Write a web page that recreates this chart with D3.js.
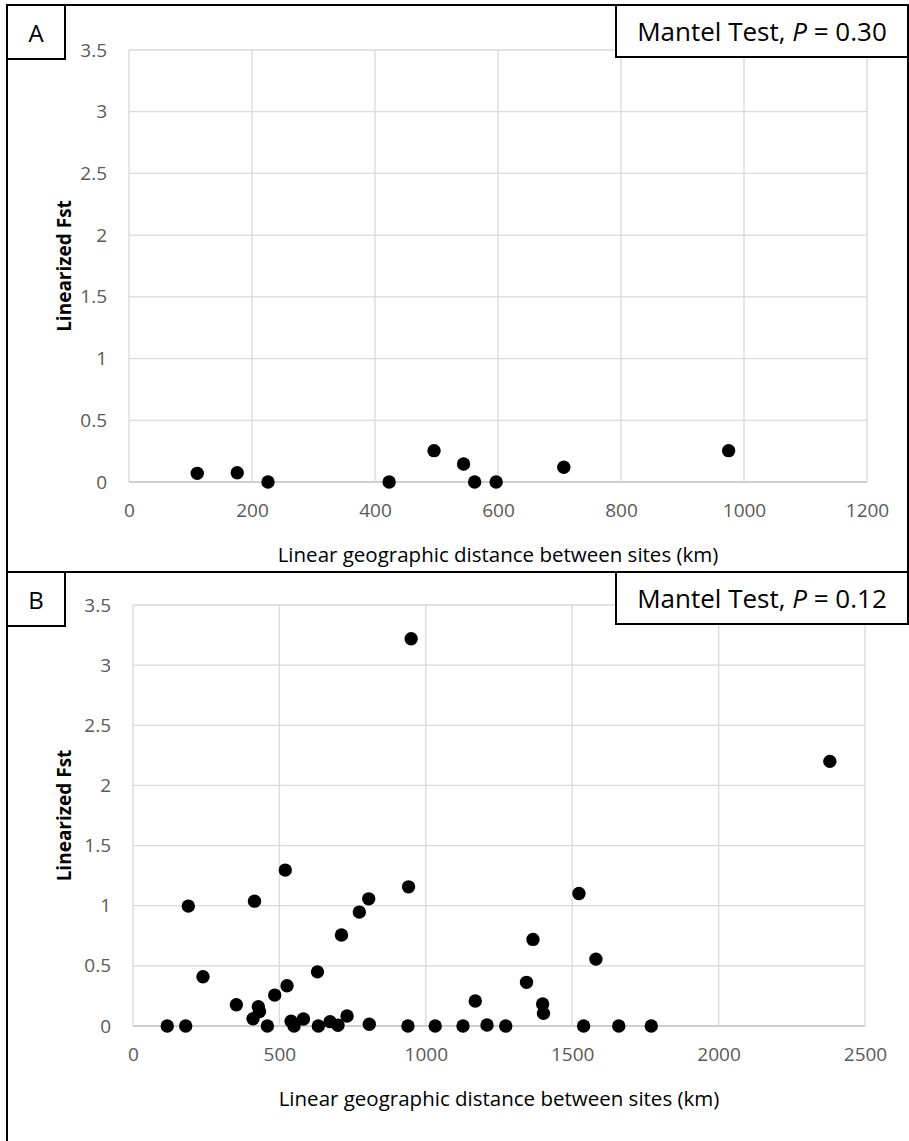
<!DOCTYPE html>
<html>
<head>
<meta charset="utf-8">
<script src="https://cdn.jsdelivr.net/npm/d3@7"></script>
<style>
  body { margin: 0; background: #fff; }
  text { font-family: "Open Sans", "Noto Sans", sans-serif; }
</style>
</head>
<body>
<div id="chart"></div>
<script>
// Panel A data (km, linearized Fst)
var distA = [111, 176, 226, 423, 496, 544, 562, 597, 707, 975];
var fstA = [0.07, 0.075, 0, 0, 0.254, 0.146, 0, 0, 0.119, 0.254];

// Panel B data
var distB = [117, 180, 189, 239, 353, 410, 415, 428, 432, 459, 484, 520, 526, 540, 550,
    582, 630, 633, 673, 700, 712, 731, 773, 805, 807, 950, 939, 941, 1032, 1127,
    1169, 1209, 1273, 1344, 1366, 1399, 1402, 1523, 1539, 1581, 1659, 1770, 2380];
var fstB = [0, 0, 0.997, 0.41, 0.177, 0.06, 1.038, 0.16, 0.12, 0, 0.257, 1.296, 0.335, 0.04, 0,
    0.058, 0.45, 0, 0.036, 0.006, 0.756, 0.083, 0.947, 1.057, 0.014, 3.22, 0, 1.157, 0, 0,
    0.208, 0.008, 0, 0.363, 0.72, 0.183, 0.105, 1.102, 0, 0.556, 0, 0, 2.2];

var yTicks = [0, 0.5, 1, 1.5, 2, 2.5, 3, 3.5];
var xTicksA = [0, 200, 400, 600, 800, 1000, 1200];
var xTicksB = [0, 500, 1000, 1500, 2000, 2500];

var labels = ["A", "B"];
var mantelP = ["0.30", "0.12"];
var xTitle = "Linear geographic distance between sites (km)";
var yTitle = "Linearized Fst";

var svgWidth = 909;
var svgHeight = 1141;

var svg = d3.select("#chart")
    .append("svg")
    .attr("width", svgWidth)
    .attr("height", svgHeight);

// outer frame lines
svg.append("rect")
    .attr("x", 7).attr("y", 5)
    .attr("width", 901).attr("height", 567)
    .attr("fill", "none").attr("stroke", "#000").attr("stroke-width", 2);
svg.append("line")
    .attr("x1", 7).attr("x2", 7).attr("y1", 572).attr("y2", svgHeight)
    .attr("stroke", "#000").attr("stroke-width", 2);

function drawPanel(top, plot, dist, fst, xTicks, xMax, idx) {
    var g = svg.append("g").attr("transform", `translate(0, ${top})`);

    var x = d3.scaleLinear().domain([0, xMax]).range([plot.left, plot.right]);
    var y = d3.scaleLinear().domain([0, 3.5]).range([plot.bottom, plot.top]);

    // gridlines
    g.append("g").selectAll("line")
        .data(yTicks)
        .enter().append("line")
        .attr("x1", plot.left).attr("x2", plot.right)
        .attr("y1", d => y(d)).attr("y2", d => y(d))
        .attr("stroke", d => d === 0 ? "#bfbfbf" : "#d9d9d9")
        .attr("stroke-width", 1.3);
    g.append("g").selectAll("line")
        .data(xTicks)
        .enter().append("line")
        .attr("x1", d => x(d)).attr("x2", d => x(d))
        .attr("y1", plot.top).attr("y2", plot.bottom)
        .attr("stroke", "#d9d9d9")
        .attr("stroke-width", 1.3);

    // y axis using d3 axis, then restyle
    var yAxis = g.append("g")
        .attr("transform", `translate(${plot.left}, 0)`)
        .call(d3.axisLeft(y).tickValues(yTicks).tickSize(0).tickPadding(22).tickFormat(d3.format("")));
    yAxis.select(".domain").remove();
    yAxis.selectAll("text")
        .attr("fill", "#595959")
        .style("font-size", "19px")
        .style("font-family", "Open Sans");

    var xAxis = g.append("g")
        .attr("transform", `translate(0, ${plot.bottom})`)
        .call(d3.axisBottom(x).tickValues(xTicks).tickSize(0).tickPadding(22).tickFormat(d3.format("")));
    xAxis.select(".domain").remove();
    xAxis.selectAll("text")
        .attr("fill", "#595959")
        .style("font-size", "19px")
        .style("font-family", "Open Sans");

    // points
    g.append("g").selectAll("circle")
        .data(dist)
        .enter().append("circle")
        .attr("cx", d => x(d))
        .attr("cy", (d, i) => y(fst[i]))
        .attr("r", 6.7)
        .attr("fill", "#000");

    // axis titles
    g.append("text")
        .attr("x", (plot.left + plot.right) / 2)
        .attr("y", plot.bottom + 80)
        .attr("text-anchor", "middle")
        .style("font-size", "20.5px")
        .attr("fill", "#000")
        .text(xTitle);

    g.append("text")
        .attr("transform", `translate(71, ${(plot.top + plot.bottom) / 2}) rotate(-90)`)
        .attr("text-anchor", "middle")
        .style("font-size", "19px")
        .style("font-weight", "bold")
        .attr("fill", "#000")
        .text(yTitle);

    // panel letter box
    g.append("rect")
        .attr("x", 7).attr("y", 0)
        .attr("width", 58).attr("height", 54)
        .attr("fill", "#fff").attr("stroke", "#000").attr("stroke-width", 2);
    g.append("text")
        .attr("x", 36).attr("y", 37)
        .attr("text-anchor", "middle")
        .style("font-size", "24px")
        .text(labels[idx]);

    // Mantel box
    g.append("rect")
        .attr("x", 616).attr("y", 0)
        .attr("width", 292).attr("height", 52)
        .attr("fill", "#fff").attr("stroke", "#000").attr("stroke-width", 2);
    var t = g.append("text")
        .attr("x", 762).attr("y", 36)
        .attr("text-anchor", "middle")
        .style("font-size", "26px");
    t.append("tspan").text("Mantel Test, ");
    t.append("tspan").style("font-style", "italic").text("P");
    t.append("tspan").text(" = " + mantelP[idx]);
}

drawPanel(5, {left: 129, right: 867, top: 45, bottom: 477}, distA, fstA, xTicksA, 1200, 0);
drawPanel(572, {left: 133, right: 865, top: 33, bottom: 454}, distB, fstB, xTicksB, 2500, 1);
</script>
</body>
</html>
